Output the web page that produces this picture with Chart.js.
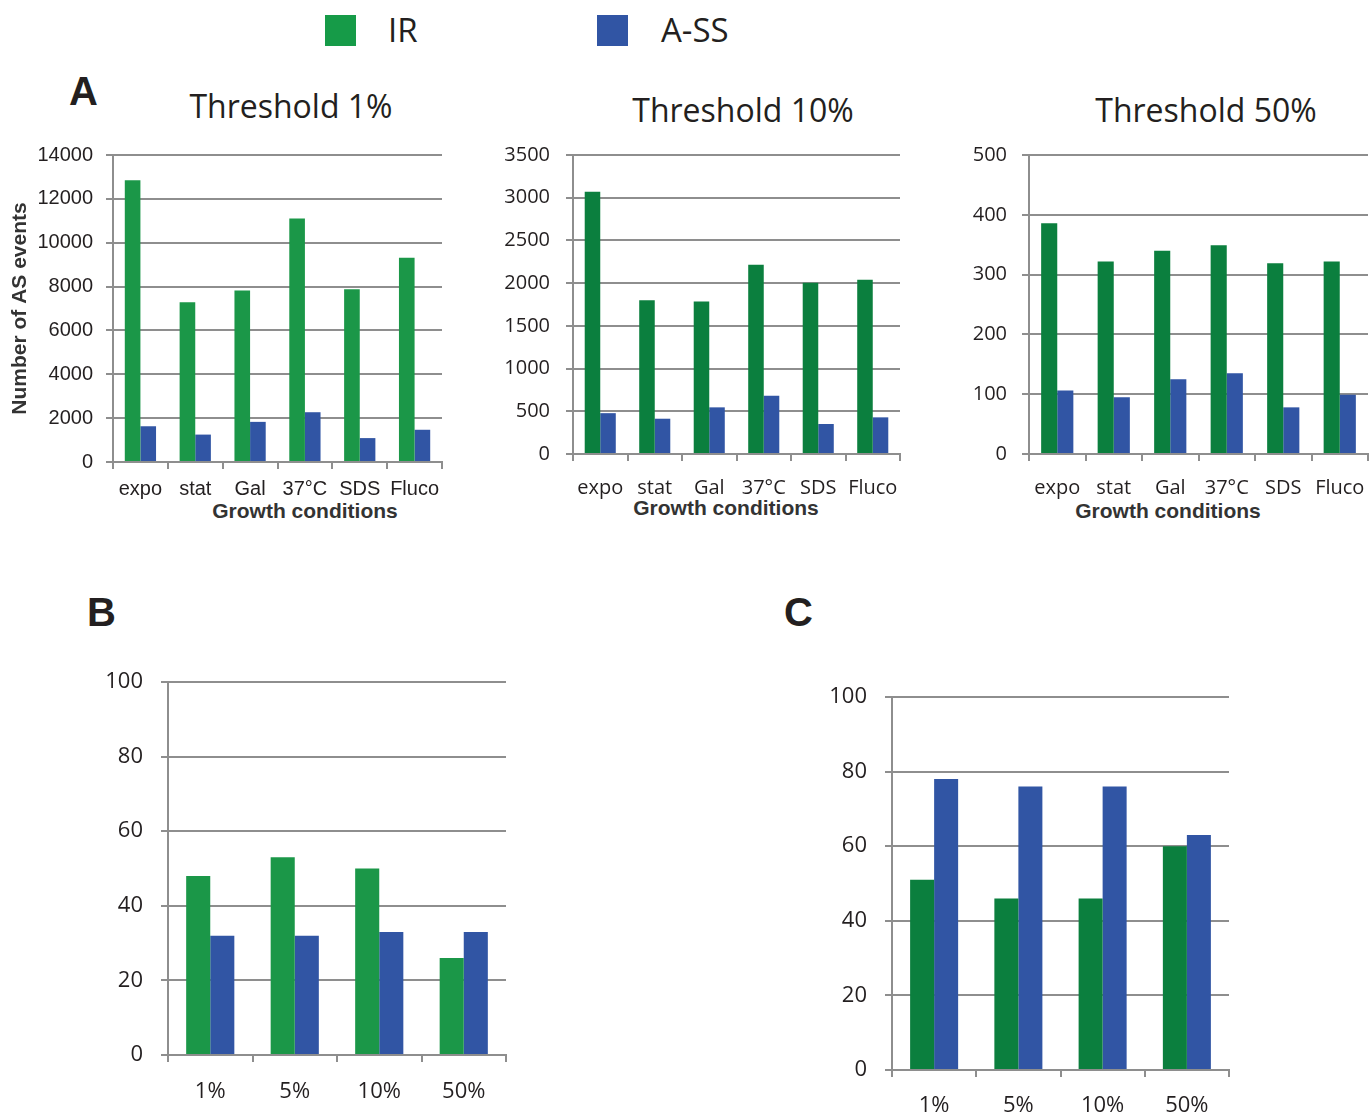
<!DOCTYPE html>
<html>
<head>
<meta charset="utf-8">
<script src="https://cdn.jsdelivr.net/npm/chart.js@4.4.1/dist/chart.umd.min.js"></script>
<style>
  body { margin: 0; background: #fff; width: 1369px; height: 1115px; position: relative; overflow: hidden; }
  .box { position: absolute; }
  .box canvas { display: block; }
  .txt { position: absolute; color: #231f20; white-space: nowrap; font-family: "Open Sans", sans-serif; }
  .letter { font-family: "Liberation Sans", Arial, sans-serif; font-weight: bold; font-size: 40px; }
  .title { font-size: 32px; transform: translateX(-50%); }
  .xt { font-family: "Liberation Sans", Arial, sans-serif; font-weight: bold; font-size: 21px; color: #333; transform: translateX(-50%); }
  .sw { position: absolute; width: 31px; height: 31px; }
</style>
</head>
<body>
<!-- legende -->
<div class="sw" style="left:325px;top:15px;background:#169b48"></div>
<div class="txt" style="left:388px;top:7px;font-size:33px">IR</div>
<div class="sw" style="left:597px;top:15px;background:#3155a4"></div>
<div class="txt" style="left:661px;top:7px;font-size:33px">A-SS</div>

<div class="txt letter" style="left:69px;top:69px">A</div>
<div class="txt letter" style="left:87px;top:590px">B</div>
<div class="txt letter" style="left:784px;top:590px">C</div>

<div class="txt title" style="left:291px;top:84px">Threshold 1%</div>
<div class="txt title" style="left:743px;top:88px">Threshold 10%</div>
<div class="txt title" style="left:1206px;top:88px">Threshold 50%</div>

<div class="txt xt" style="left:305px;top:499px">Growth conditions</div>
<div class="txt xt" style="left:726px;top:496px">Growth conditions</div>
<div class="txt xt" style="left:1168px;top:499px">Growth conditions</div>

<div class="box" style="left:0px;top:140px"><canvas id="cA1" width="450" height="390"></canvas></div>
<div class="box" style="left:460px;top:140px"><canvas id="cA2" width="450" height="390"></canvas></div>
<div class="box" style="left:920px;top:140px"><canvas id="cA3" width="449" height="390"></canvas></div>
<div class="box" style="left:80px;top:660px"><canvas id="cB" width="440" height="455"></canvas></div>
<div class="box" style="left:800px;top:680px"><canvas id="cC" width="440" height="435"></canvas></div>

<script>
// donnees
const conditions = ['expo', 'stat', 'Gal', '37°C', 'SDS', 'Fluco'];
const thresholds = ['1%', '5%', '10%', '50%'];

const irT1 = [12850, 7280, 7820, 11100, 7880, 9320];
const assT1 = [1630, 1250, 1830, 2270, 1090, 1470];
const irT10 = [3070, 1800, 1785, 2215, 2005, 2040];
const assT10 = [478, 413, 546, 682, 351, 429];
const irT50 = [386, 322, 340, 349, 319, 322];
const assT50 = [106, 95, 125, 135, 78, 99];

const irB = [48, 53, 50, 26];
const assB = [32, 32, 33, 33];
const irC = [51, 46, 46, 60];
const assC = [78, 76, 76, 63];

const GREEN_LIGHT = '#1b9748';
const GREEN_DARK = '#0b7f3e';
const BLUE = '#3155a4';
const GRID = '#8e8e8e';
const INK = '#231f20';

function makeChart(id, cfg) {
    const ctx = document.getElementById(id).getContext('2d');
    return new Chart(ctx, {
        type: 'bar',
        data: {
            labels: cfg.labels,
            datasets: [
                { label: 'IR', data: cfg.ir, backgroundColor: cfg.green, categoryPercentage: 0.57, barPercentage: 1.0 },
                { label: 'A-SS', data: cfg.ass, backgroundColor: BLUE, categoryPercentage: 0.57, barPercentage: 1.0 }
            ]
        },
        options: {
            responsive: false,
            animation: false,
            layout: { autoPadding: false, padding: cfg.padding },
            plugins: { legend: { display: false }, tooltip: { enabled: false } },
            scales: {
                x: {
                    grid: { display: true, drawOnChartArea: false, drawTicks: true, tickLength: 7, color: GRID, lineWidth: 2, offset: true },
                    border: { display: true, color: GRID, width: 2 },
                    ticks: { color: INK, font: { family: cfg.family, size: cfg.xSize }, padding: cfg.xPad, maxRotation: 0, autoSkip: false },
                    afterFit: function (scale) {
                        scale.height = cfg.xHeight;
                        scale.paddingLeft = 0;
                        scale.paddingRight = 0;
                    }
                },
                y: {
                    min: 0, max: cfg.max,
                    grid: { color: GRID, lineWidth: 2, tickLength: 7, drawTicks: true },
                    border: { display: true, color: GRID, width: 2 },
                    ticks: {
                        stepSize: cfg.step, color: INK, font: { family: cfg.family, size: cfg.ySize }, padding: cfg.yPad,
                        callback: function (v) { return String(v); }
                    },
                    title: cfg.yTitle ? {
                        display: true, text: cfg.yTitle, color: '#333',
                        font: { family: 'Liberation Sans, Arial, sans-serif', size: 21, weight: 'bold' },
                        padding: { top: 8, bottom: 0 }
                    } : { display: false },
                    afterFit: function (scale) {
                        scale.width = cfg.yWidth;
                        scale.paddingTop = 0;
                        scale.paddingBottom = 0;
                    }
                }
            }
        }
    });
}

const ARIAL = 'Liberation Sans, Arial, sans-serif';
const SANS = 'Open Sans, sans-serif';

makeChart('cA1', {
    labels: conditions, ir: irT1, ass: assT1, green: GREEN_LIGHT,
    max: 14000, step: 2000, family: ARIAL, xSize: 20, ySize: 20,
    padding: { top: 15, right: 8, left: 0, bottom: 0 },
    yWidth: 113, yPad: 13, xHeight: 68, xPad: 8,
    yTitle: 'Number of AS events'
});

makeChart('cA2', {
    labels: conditions, ir: irT10, ass: assT10, green: GREEN_DARK,
    max: 3500, step: 500, family: SANS, xSize: 20, ySize: 20,
    padding: { top: 15, right: 10, left: 0, bottom: 0 },
    yWidth: 113, yPad: 16, xHeight: 76, xPad: 15
});

makeChart('cA3', {
    labels: conditions, ir: irT50, ass: assT50, green: GREEN_DARK,
    max: 500, step: 100, family: SANS, xSize: 20, ySize: 20,
    padding: { top: 15, right: 1, left: 0, bottom: 0 },
    yWidth: 109, yPad: 15, xHeight: 76, xPad: 15
});

makeChart('cB', {
    labels: thresholds, ir: irB, ass: assB, green: GREEN_LIGHT,
    max: 100, step: 20, family: SANS, xSize: 22, ySize: 22,
    padding: { top: 22, right: 14, left: 0, bottom: 0 },
    yWidth: 88, yPad: 18, xHeight: 60, xPad: 17
});

makeChart('cC', {
    labels: thresholds, ir: irC, ass: assC, green: GREEN_DARK,
    max: 100, step: 20, family: SANS, xSize: 22, ySize: 22,
    padding: { top: 17, right: 11, left: 0, bottom: 0 },
    yWidth: 92, yPad: 18, xHeight: 45, xPad: 16
});
</script>
</body>
</html>
